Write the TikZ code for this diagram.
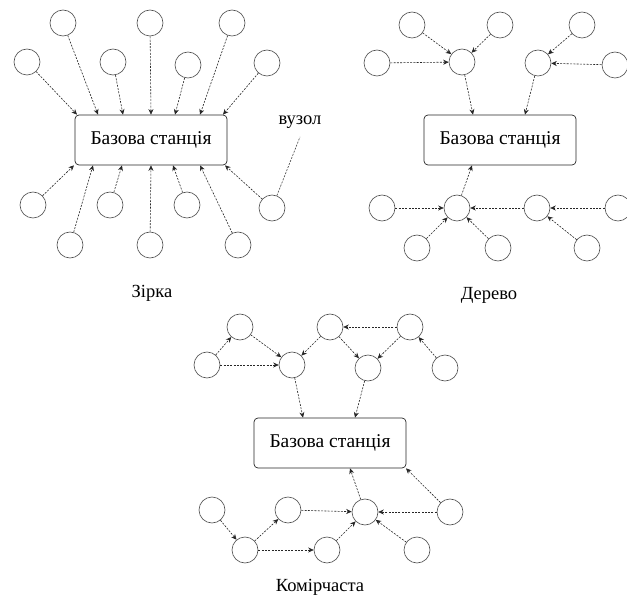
\documentclass[tikz,border=0pt]{standalone}
\usepackage{fontspec}
\setmainfont{Liberation Serif}
\usetikzlibrary{arrows.meta,positioning}

\begin{document}
\begin{tikzpicture}[x=1pt, y=-1pt,
    nd/.style={draw=black!70, line width=0.6pt, circle, minimum size=26pt, inner sep=0pt},
    bs/.style={draw=black!85, line width=0.7pt, rectangle, rounded corners=4pt, minimum width=152pt, minimum height=50pt, font=\rmfamily\fontsize{19.5}{22}\selectfont},
    lnk/.style={-{Stealth[length=5.5pt,width=5pt]}, dash pattern=on 2pt off 1.3pt, black!85, line width=0.6pt},
    lbl/.style={font=\rmfamily\fontsize{18.5}{21}\selectfont}
]
\useasboundingbox (0,0) rectangle (627,596);

% Star
\node[bs] (starbs) at (151,140) {Базова станція};
\node[nd] (sa1) at (63,23) {};
\node[nd] (sa2) at (150,23) {};
\node[nd] (sa3) at (232,23) {};
\node[nd] (sb1) at (27,62) {};
\node[nd] (sb2) at (113,62) {};
\node[nd] (sb3) at (188,65) {};
\node[nd] (sb4) at (267,63) {};
\node[nd] (sc1) at (33,205) {};
\node[nd] (sc2) at (110,205) {};
\node[nd] (sc3) at (187,205) {};
\node[nd] (sc4) at (272,208) {};
\node[nd] (sd1) at (70,245) {};
\node[nd] (sd2) at (150,245) {};
\node[nd] (sd3) at (238,245) {};
\node[lbl] (vuzol) at (300,122) {вузол};
\node[lbl] (starlbl) at (152,293) {Зірка};

\draw[lnk] (sb1) -- ([xshift=-74pt]starbs.north);
\draw[lnk] (sa1) -- ([xshift=-53pt]starbs.north);
\draw[lnk] (sb2) -- ([xshift=-28pt]starbs.north);
\draw[lnk] (sa2) -- (starbs.north);
\draw[lnk] (sb3) -- ([xshift=24pt]starbs.north);
\draw[lnk] (sa3) -- ([xshift=49pt]starbs.north);
\draw[lnk] (sb4) -- ([xshift=72pt]starbs.north);
\draw[lnk] (sc1) -- ([xshift=-77pt]starbs.south);
\draw[lnk] (sd1) -- ([xshift=-58pt]starbs.south);
\draw[lnk] (sc2) -- ([xshift=-29pt]starbs.south);
\draw[lnk] (sd2) -- (starbs.south);
\draw[lnk] (sc3) -- ([xshift=22pt]starbs.south);
\draw[lnk] (sd3) -- ([xshift=49pt]starbs.south);
\draw[lnk] (sc4) -- ([xshift=74pt]starbs.south);
\draw[dash pattern=on 2pt off 1.3pt, black!75, line width=0.6pt] (sc4) -- ([yshift=-5pt]vuzol.south);

% Tree
\node[bs] (treebs) at (500,140) {Базова станція};
\node[nd] (ta1) at (412,25) {};
\node[nd] (ta2) at (500,25) {};
\node[nd] (ta3) at (582,25) {};
\node[nd] (tb1) at (377,63) {};
\node[nd] (tb2) at (462,62) {};
\node[nd] (tb3) at (538,63) {};
\node[nd] (tb4) at (615,65) {};
\node[nd] (tc1) at (382,208) {};
\node[nd] (tc2) at (457,208) {};
\node[nd] (tc3) at (537,208) {};
\node[nd] (tc4) at (618,208) {};
\node[nd] (td1) at (417,248) {};
\node[nd] (td2) at (498,248) {};
\node[nd] (td3) at (587,248) {};
\node[lbl] (treelbl) at (489,295) {Дерево};

\draw[lnk] (ta1) -- (tb2);
\draw[lnk] (ta2) -- (tb2);
\draw[lnk] (tb1) -- (tb2);
\draw[lnk] (tb2) -- ([xshift=-27pt]treebs.north);
\draw[lnk] (ta3) -- (tb3);
\draw[lnk] (tb4) -- (tb3);
\draw[lnk] (tb3) -- ([xshift=25pt]treebs.north);
\draw[lnk] (tc2) -- ([xshift=-28pt]treebs.south);
\draw[lnk] (tc1) -- (tc2);
\draw[lnk] (tc3) -- (tc2);
\draw[lnk] (tc4) -- (tc3);
\draw[lnk] (td1) -- (tc2);
\draw[lnk] (td2) -- (tc2);
\draw[lnk] (td3) -- (tc3);

% Mesh
\node[bs] (meshbs) at (330,443) {Базова станція};
\node[nd] (ma1) at (240,327) {};
\node[nd] (ma2) at (330,327) {};
\node[nd] (ma3) at (410,327) {};
\node[nd] (mb1) at (207,365) {};
\node[nd] (mb2) at (292,365) {};
\node[nd] (mb3) at (368,368) {};
\node[nd] (mb4) at (445,368) {};
\node[nd] (mc1) at (212,510) {};
\node[nd] (mc2) at (288,510) {};
\node[nd] (mc3) at (365,512) {};
\node[nd] (mc4) at (450,512) {};
\node[nd] (md1) at (245,550) {};
\node[nd] (md2) at (327,550) {};
\node[nd] (md3) at (417,550) {};
\node[lbl] (meshlbl) at (320,587) {Комірчаста};

\draw[lnk] (mb1) -- (ma1);
\draw[lnk] (mb1) -- (mb2);
\draw[lnk] (ma1) -- (mb2);
\draw[lnk] (ma2) -- (mb2);
\draw[lnk] (ma3) -- (ma2);
\draw[lnk] (ma2) -- (mb3);
\draw[lnk] (ma3) -- (mb3);
\draw[lnk] (mb4) -- (ma3);
\draw[lnk] (mb2) -- ([xshift=-27pt]meshbs.north);
\draw[lnk] (mb3) -- ([xshift=25pt]meshbs.north);
\draw[lnk] (mc3) -- ([xshift=20pt]meshbs.south);
\draw[lnk] (mc4) -- ([xshift=76pt]meshbs.south);
\draw[lnk] (mc1) -- (md1);
\draw[lnk] (md1) -- (mc2);
\draw[lnk] (md1) -- (md2);
\draw[lnk] (mc2) -- (mc3);
\draw[lnk] (md2) -- (mc3);
\draw[lnk] (md3) -- (mc3);
\draw[lnk] (mc4) -- (mc3);

\end{tikzpicture}
\end{document}
